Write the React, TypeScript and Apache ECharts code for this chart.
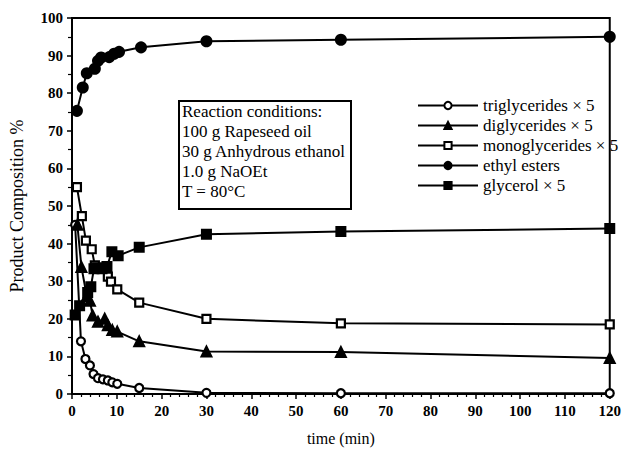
import React, { useEffect, useRef } from "react";
import * as echarts from "echarts";

const seriesNames = [
  "triglycerides × 5",
  "diglycerides × 5",
  "monoglycerides × 5",
  "ethyl esters",
  "glycerol × 5",
];

const triTime = [0.7, 2, 3, 4, 4.8, 5.8, 6.9, 8, 9, 10.1, 15, 30, 60, 120];
const triValues = [45, 14, 9.3, 7.6, 5.3, 4.2, 3.9, 3.6, 3.1, 2.7, 1.6, 0.3, 0.2, 0.2];

const diTime = [1.2, 2.1, 3.3, 4, 4.6, 5.8, 7.3, 8, 9, 10.1, 15, 30, 60, 120];
const diValues = [45, 33.8, 26, 24.8, 20.9, 19.2, 20, 18.3, 17, 16.6, 14, 11.3, 11.2, 9.6];

const monoTime = [1.1, 2.2, 3.1, 4.4, 5.1, 6.4, 8, 8.7, 10.1, 15, 30, 60, 120];
const monoValues = [55, 47.3, 40.8, 38.5, 34.2, 33.4, 31.2, 29.9, 27.8, 24.3, 20, 18.8, 18.5];

const esterTime = [1.1, 2.4, 3.3, 5.1, 5.8, 6.5, 8.3, 9.4, 10.5, 15.4, 30, 60, 120];
const esterValues = [75.3, 81.5, 85.3, 86.5, 88.6, 89.5, 89.6, 90.5, 91, 92.2, 93.8, 94.2, 95];

const glyTime = [0.7, 1.7, 3.5, 4.2, 4.9, 5.7, 6.7, 7.8, 8.9, 10.3, 15, 30, 60, 120];
const glyValues = [21, 23.5, 27, 28.5, 33.3, 33.6, 33.3, 33.9, 37.8, 36.8, 39, 42.5, 43.2, 44];

const conditionLines = [
  "Reaction conditions:",
  "100 g Rapeseed oil",
  "30 g Anhydrous ethanol",
  "1.0 g NaOEt",
  "T = 80°C",
];

const pair = (t: number[], v: number[]) => t.map((x, i) => [x, v[i]]);

const SERIF = "Liberation Serif, serif";

export default function App() {
  const ref = useRef<HTMLDivElement>(null);
  useEffect(() => {
    if (!ref.current) return;
    const chart = echarts.init(ref.current, undefined, { renderer: "svg" });
    const base = {
      type: "line" as const,
      clip: false,
      lineStyle: { color: "#000", width: 2 },
      itemStyle: { color: "#000", borderColor: "#000", borderWidth: 2 },
      emphasis: { disabled: true },
    };
    const openStyle = { color: "#fff", borderColor: "#000", borderWidth: 2.2 };
    chart.setOption({
      animation: false,
      backgroundColor: "#fff",
      grid: {
        left: 63,
        right: 4,
        top: 18,
        bottom: 42,
        show: true,
        borderColor: "#000",
        borderWidth: 2,
        backgroundColor: "transparent",
      },
      legend: {
        orient: "vertical",
        left: 412,
        top: 91,
        itemWidth: 60,
        itemHeight: 9,
        itemGap: 1,
        textStyle: { fontFamily: SERIF, fontSize: 17, lineHeight: 19, color: "#000" },
        data: seriesNames,
      },
      xAxis: {
        type: "value",
        min: 0,
        max: 120,
        interval: 10,
        name: "time (min)",
        nameLocation: "middle",
        nameGap: 36,
        nameTextStyle: { fontFamily: SERIF, fontSize: 16, color: "#000" },
        axisLine: { lineStyle: { color: "#000", width: 2 } },
        axisTick: { show: true, inside: false, length: 5, lineStyle: { color: "#000", width: 1.5 } },
        minorTick: { show: true, splitNumber: 5, length: 3, lineStyle: { color: "#000", width: 1.2 } },
        axisLabel: { fontFamily: SERIF, fontSize: 15, fontWeight: "bold", color: "#000", margin: 9 },
        splitLine: { show: false },
      },
      yAxis: {
        type: "value",
        min: 0,
        max: 100,
        interval: 10,
        name: "Product Composition %",
        nameLocation: "middle",
        nameGap: 46,
        nameTextStyle: { fontFamily: SERIF, fontSize: 18, color: "#000" },
        axisLine: { lineStyle: { color: "#000", width: 2 } },
        axisTick: { show: true, inside: false, length: 5, lineStyle: { color: "#000", width: 1.5 } },
        minorTick: { show: true, splitNumber: 2, length: 4, lineStyle: { color: "#000", width: 1.2 } },
        axisLabel: { fontFamily: SERIF, fontSize: 15, fontWeight: "bold", color: "#000", margin: 9 },
        splitLine: { show: false },
      },
      graphic: [
        {
          type: "rect",
          left: 178,
          top: 100,
          shape: { width: 172, height: 108 },
          style: { fill: "#fff", stroke: "#000", lineWidth: 2 },
          z: 10,
        },
        ...conditionLines.map((s, i) => ({
          type: "text",
          left: 182,
          top: 103 + i * 20,
          style: { text: s, font: `17px ${SERIF}`, fill: "#000" },
          z: 11,
        })),
      ],
      series: [
        {
          ...base,
          name: seriesNames[0],
          data: pair(triTime, triValues),
          symbol: "circle",
          symbolSize: 8,
          itemStyle: openStyle,
        },
        {
          ...base,
          name: seriesNames[1],
          data: pair(diTime, diValues),
          symbol: "triangle",
          symbolSize: 10,
        },
        {
          ...base,
          name: seriesNames[2],
          data: pair(monoTime, monoValues),
          symbol: "rect",
          symbolSize: 8,
          itemStyle: openStyle,
        },
        {
          ...base,
          name: seriesNames[3],
          data: pair(esterTime, esterValues),
          symbol: "circle",
          symbolSize: 10,
        },
        {
          ...base,
          name: seriesNames[4],
          data: pair(glyTime, glyValues),
          symbol: "rect",
          symbolSize: 9,
        },
      ],
    });
    return () => chart.dispose();
  }, []);
  return (
    <div
      ref={ref}
      style={{ position: "fixed", left: 0, top: 0, width: 624, height: 451 }}
    />
  );
}
